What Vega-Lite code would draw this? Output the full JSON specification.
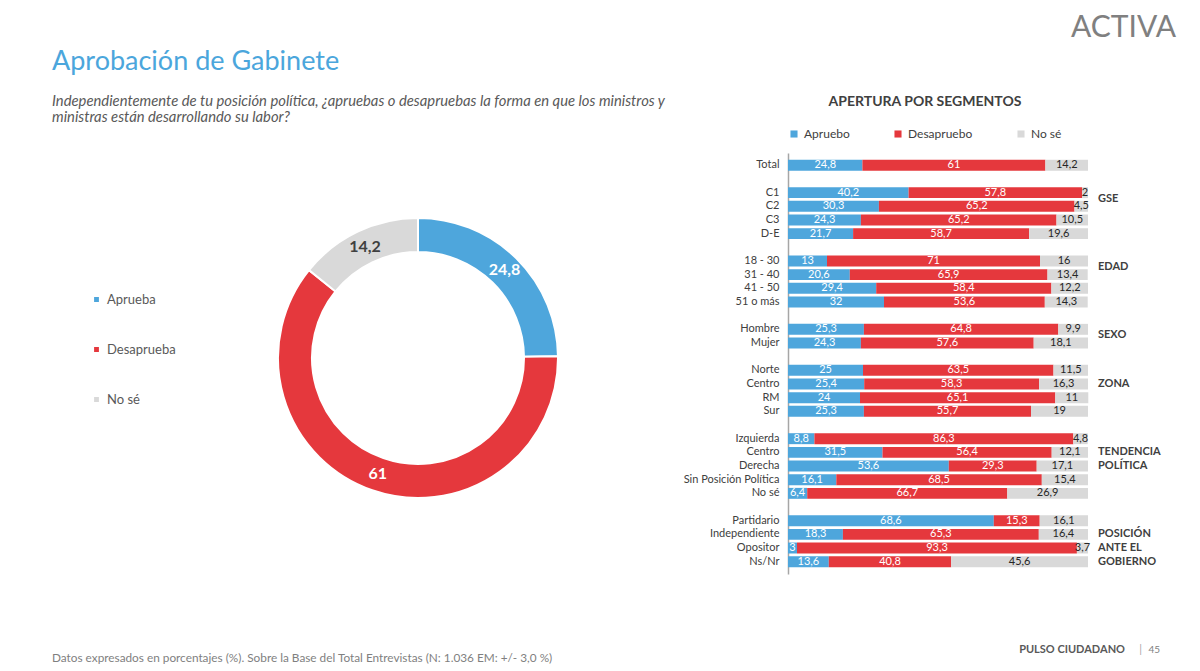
{
  "$schema": "https://vega.github.io/schema/vega-lite/v6.json",
  "background": "white",
  "padding": {"left": 52, "top": 13, "right": 10, "bottom": 0},
  "config": {
    "font": "Lato",
    "view": {"stroke": null},
    "locale": {"number": {"decimal": ",", "thousands": ".", "grouping": [3], "currency": ["", ""]}}
  },
  "bounds": "full",
  "spacing": 70,
  "vconcat": [
    {
      "bounds": "flush",
      "spacing": 4,
      "resolve": {"scale": {"color": "independent"}, "legend": {"color": "independent"}},
      "hconcat": [
        {
          "width": 732,
          "height": 410,
          "title": {
            "text": "Aprobación de Gabinete",
            "subtitle": [
              "Independientemente de tu posición política, ¿apruebas o desapruebas la forma en que los ministros y",
              "ministras están desarrollando su labor?"
            ],
            "anchor": "start",
            "frame": "group",
            "fontSize": 27,
            "fontWeight": "normal",
            "color": "#4BA6DC",
            "subtitleFontSize": 14.8,
            "subtitleFontStyle": "italic",
            "subtitleColor": "#595959",
            "subtitleLineHeight": 16,
            "subtitlePadding": 18,
            "offset": 27
          },
          "data": {
            "values": [
              {"respuesta": "Aprueba", "valor": 24.8},
              {"respuesta": "Desaprueba", "valor": 61},
              {"respuesta": "No sé", "valor": 14.2}
            ]
          },
          "encoding": {
            "theta": {"field": "valor", "type": "quantitative", "stack": true},
            "order": {"field": "respuesta", "sort": "ascending"},
            "color": {
              "field": "respuesta",
              "type": "nominal",
              "scale": {
                "domain": ["Aprueba", "Desaprueba", "No sé"],
                "range": ["#4EA6DC", "#E5383D", "#D9D9D9"]
              },
              "legend": {
                "orient": "none",
                "legendX": 38,
                "legendY": 140,
                "title": null,
                "direction": "vertical",
                "symbolType": "square",
                "symbolSize": 40,
                "labelFontSize": 13,
                "labelColor": "#595959",
                "labelOffset": 4,
                "rowPadding": 36
              }
            }
          },
          "layer": [
            {"mark": {"type": "arc", "outerRadius": 140, "innerRadius": 106, "stroke": "white", "strokeWidth": 2}},
            {
              "mark": {"type": "text", "radius": 123, "fontSize": 16, "fontWeight": "bold"},
              "encoding": {
                "detail": {"field": "respuesta"},
                "text": {"field": "valor", "type": "quantitative", "format": ".1~f"},
                "color": {"condition": {"test": "datum.respuesta === 'No sé'", "value": "#404040"}, "value": "white"}
              }
            }
          ]
        },
        {
          "width": 300,
          "height": 421,
          "title": {
            "text": "ACTIVA",
            "anchor": "end",
            "frame": "group",
            "dx": 88,
            "offset": 52,
            "fontSize": 30,
            "fontWeight": "normal",
            "color": "#808080"
          },
          "layer": [
            {
              "data": {
                "values": [
                  {"fila": "Total", "Apruebo": 24.8, "Desapruebo": 61, "No sé": 14.2},
                  {"fila": "C1", "Apruebo": 40.2, "Desapruebo": 57.8, "No sé": 2},
                  {"fila": "C2", "Apruebo": 30.3, "Desapruebo": 65.2, "No sé": 4.5},
                  {"fila": "C3", "Apruebo": 24.3, "Desapruebo": 65.2, "No sé": 10.5},
                  {"fila": "D-E", "Apruebo": 21.7, "Desapruebo": 58.7, "No sé": 19.6},
                  {"fila": "18 - 30", "Apruebo": 13, "Desapruebo": 71, "No sé": 16},
                  {"fila": "31 - 40", "Apruebo": 20.6, "Desapruebo": 65.9, "No sé": 13.4},
                  {"fila": "41 - 50", "Apruebo": 29.4, "Desapruebo": 58.4, "No sé": 12.2},
                  {"fila": "51 o más", "Apruebo": 32, "Desapruebo": 53.6, "No sé": 14.3},
                  {"fila": "Hombre", "Apruebo": 25.3, "Desapruebo": 64.8, "No sé": 9.9},
                  {"fila": "Mujer", "Apruebo": 24.3, "Desapruebo": 57.6, "No sé": 18.1},
                  {"fila": "Norte", "Apruebo": 25, "Desapruebo": 63.5, "No sé": 11.5},
                  {"fila": "Centro", "Apruebo": 25.4, "Desapruebo": 58.3, "No sé": 16.3},
                  {"fila": "RM", "Apruebo": 24, "Desapruebo": 65.1, "No sé": 11},
                  {"fila": "Sur", "Apruebo": 25.3, "Desapruebo": 55.7, "No sé": 19},
                  {"fila": "Izquierda", "Apruebo": 8.8, "Desapruebo": 86.3, "No sé": 4.8},
                  {"fila": "Centro (T)", "Apruebo": 31.5, "Desapruebo": 56.4, "No sé": 12.1},
                  {"fila": "Derecha", "Apruebo": 53.6, "Desapruebo": 29.3, "No sé": 17.1},
                  {"fila": "Sin Posición Política", "Apruebo": 16.1, "Desapruebo": 68.5, "No sé": 15.4},
                  {"fila": "No sé", "Apruebo": 6.4, "Desapruebo": 66.7, "No sé": 26.9},
                  {"fila": "Partidario", "Apruebo": 68.6, "Desapruebo": 15.3, "No sé": 16.1},
                  {"fila": "Independiente", "Apruebo": 18.3, "Desapruebo": 65.3, "No sé": 16.4},
                  {"fila": "Opositor", "Apruebo": 3, "Desapruebo": 93.3, "No sé": 3.7},
                  {"fila": "Ns/Nr", "Apruebo": 13.6, "Desapruebo": 40.8, "No sé": 45.6}
                ]
              },
              "transform": [
                {"fold": ["Apruebo", "Desapruebo", "No sé"], "as": ["respuesta", "valor"]},
                {"stack": "valor", "groupby": ["fila"], "sort": [{"field": "respuesta", "order": "ascending"}], "as": ["x0", "x1"]},
                {"calculate": "(datum.x0 + datum.x1) / 2", "as": "xm"}
              ],
              "layer": [
                {
                  "mark": {"type": "bar"},
                  "encoding": {
                    "x": {"field": "x0", "type": "quantitative", "scale": {"domain": [0, 100], "nice": false}, "axis": null},
                    "x2": {"field": "x1"},
                    "y": {
                      "field": "fila",
                      "type": "nominal",
                      "scale": {
                        "domain": ["Total", "gap1", "C1", "C2", "C3", "D-E", "gap2", "18 - 30", "31 - 40", "41 - 50", "51 o más", "gap3", "Hombre", "Mujer", "gap4", "Norte", "Centro", "RM", "Sur", "gap5", "Izquierda", "Centro (T)", "Derecha", "Sin Posición Política", "No sé", "gap6", "Partidario", "Independiente", "Opositor", "Ns/Nr"],
                        "paddingInner": 0.2,
                        "paddingOuter": 0.5
                      },
                      "axis": {
                        "title": null,
                        "ticks": false,
                        "grid": false,
                        "domainColor": "#A6A6A6",
                        "domainWidth": 1.5,
                        "labelFontSize": 11,
                        "labelColor": "#404040",
                        "labelPadding": 9,
                        "labelExpr": "indexof(datum.value, 'gap') === 0 ? '' : replace(datum.value, ' (T)', '')"
                      }
                    },
                    "color": {
                      "field": "respuesta",
                      "type": "nominal",
                      "scale": {"domain": ["Apruebo", "Desapruebo", "No sé"], "range": ["#4EA6DC", "#E5383D", "#D9D9D9"]},
                      "legend": {
                        "orient": "top",
                        "direction": "horizontal",
                        "title": "APERTURA POR SEGMENTOS",
                        "titleLimit": 400,
                        "titleOrient": "top",
                        "titleAnchor": "middle",
                        "titleFontSize": 14,
                        "titleFontWeight": "bold",
                        "titleColor": "#404040",
                        "titlePadding": 19,
                        "labelFontSize": 12,
                        "labelColor": "#404040",
                        "symbolType": "square",
                        "symbolSize": 50,
                        "columnPadding": 42,
                        "offset": 13
                      }
                    }
                  }
                },
                {
                  "mark": {"type": "text", "fontSize": 11, "align": "center", "baseline": "middle"},
                  "encoding": {
                    "x": {"field": "xm", "type": "quantitative"},
                    "y": {"field": "fila", "type": "nominal"},
                    "text": {"field": "valor", "type": "quantitative", "format": ".1~f"},
                    "color": {"condition": {"test": "datum.respuesta === 'No sé'", "value": "#262626"}, "value": "white"}
                  }
                }
              ]
            },
            {
              "data": {
                "values": [
                  {"grupo": "GSE", "fila": "C1"},
                  {"grupo": "EDAD", "fila": "18 - 30"},
                  {"grupo": "SEXO", "fila": "Hombre"},
                  {"grupo": "ZONA", "fila": "Centro"},
                  {"grupo": "TENDENCIA", "fila": "Centro (T)"},
                  {"grupo": "POLÍTICA", "fila": "Derecha"},
                  {"grupo": "POSICIÓN", "fila": "Independiente"},
                  {"grupo": "ANTE EL", "fila": "Opositor"},
                  {"grupo": "GOBIERNO", "fila": "Ns/Nr"}
                ]
              },
              "encoding": {
                "x": {"datum": 100, "type": "quantitative"},
                "y": {"field": "fila", "type": "nominal"},
                "text": {"field": "grupo"}
              },
              "layer": [
                {
                  "transform": [{"filter": "indexof(['GSE', 'EDAD', 'SEXO'], datum.grupo) >= 0"}],
                  "mark": {"type": "text", "align": "left", "baseline": "middle", "dx": 10, "dy": 6, "fontSize": 11, "fontWeight": "bold", "color": "#404040"}
                },
                {
                  "transform": [{"filter": "indexof(['GSE', 'EDAD', 'SEXO'], datum.grupo) < 0"}],
                  "mark": {"type": "text", "align": "left", "baseline": "middle", "dx": 10, "fontSize": 11, "fontWeight": "bold", "color": "#404040"}
                }
              ]
            }
          ]
        }
      ]
    },
    {
      "width": 1108,
      "height": 10,
      "data": {
        "values": [
          {"lado": "izq", "parte": "nota", "texto": "Datos expresados en porcentajes (%). Sobre la Base del Total Entrevistas (N: 1.036  EM: +/- 3,0 %)"},
          {"lado": "der", "parte": "marca", "texto": "PULSO CIUDADANO"},
          {"lado": "der", "parte": "separador", "texto": "|"},
          {"lado": "der", "parte": "pagina", "texto": "45"}
        ]
      },
      "encoding": {
        "x": {"field": "lado", "type": "nominal", "scale": {"type": "point", "domain": ["izq", "der"], "padding": 0}, "axis": null},
        "text": {"field": "texto"}
      },
      "layer": [
        {
          "transform": [{"filter": "datum.parte === 'nota'"}],
          "mark": {"type": "text", "align": "left", "baseline": "middle", "fontSize": 11.8, "color": "#7F7F7F", "dy": 2}
        },
        {
          "transform": [{"filter": "datum.parte === 'marca'"}],
          "mark": {"type": "text", "align": "right", "baseline": "middle", "fontSize": 11, "fontWeight": "bold", "color": "#595959", "dx": -35, "dy": -6}
        },
        {
          "transform": [{"filter": "datum.parte === 'separador'"}],
          "mark": {"type": "text", "align": "right", "baseline": "middle", "fontSize": 11, "color": "#A6A6A6", "dx": -18, "dy": -6}
        },
        {
          "transform": [{"filter": "datum.parte === 'pagina'"}],
          "mark": {"type": "text", "align": "right", "baseline": "middle", "fontSize": 10, "color": "#7F7F7F", "dy": -6}
        }
      ]
    }
  ]
}
